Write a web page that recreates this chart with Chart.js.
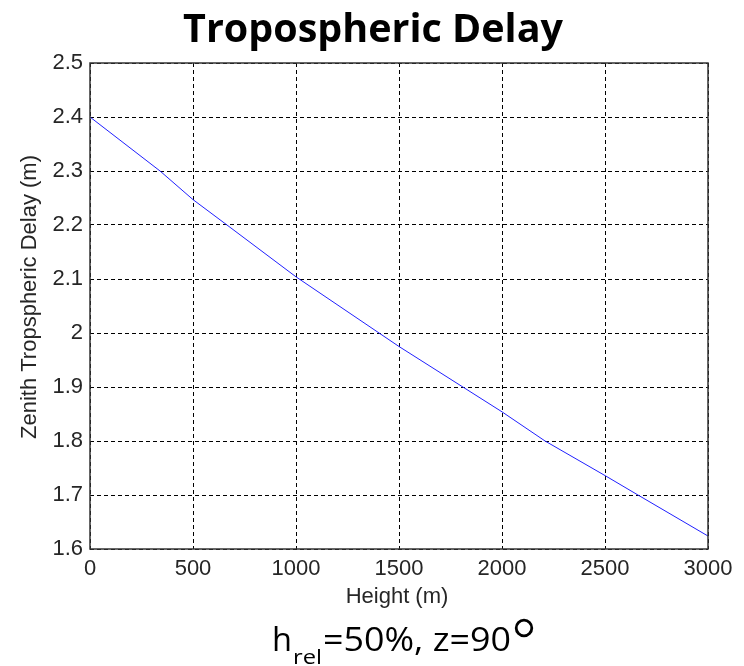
<!DOCTYPE html>
<html><head><meta charset="utf-8">
<script src="https://cdn.jsdelivr.net/npm/chart.js@4"></script>
<style>html,body{margin:0;padding:0;background:#fff}#w{width:744px;height:666px;position:relative}</style>
</head><body><div id="w"><canvas id="c" width="744" height="666"></canvas></div>
<script>
const heights = [0, 340, 500, 665, 1000, 1500, 2000, 2209, 2500, 2660, 3000];
const delays  = [2.40, 2.30, 2.247, 2.20, 2.104, 1.975, 1.854, 1.80, 1.736, 1.70, 1.624];
const xTicks = [0, 500, 1000, 1500, 2000, 2500, 3000];
const yTicks = [1.6, 1.7, 1.8, 1.9, 2.0, 2.1, 2.2, 2.3, 2.4, 2.5];
const titleText = 'Tropospheric Delay';
const xLabel = 'Height (m)';
const yLabel = 'Zenith Tropspheric Delay (m)';

const AX_FONT = '"Liberation Sans", Arial, sans-serif';
const SUB_FONT = '"Open Sans", sans-serif';

function fitFont(ctx, text, weight, family, width){
  ctx.font = weight+' 100px '+family;
  const w = ctx.measureText(text).width;
  return 100*width/w;
}
function drawStretched(ctx, text, size, x0, x1, base){
  ctx.font = size+'px '+SUB_FONT;
  const w = ctx.measureText(text).width;
  const sx = (x1-x0)/w;
  ctx.save();
  ctx.translate(x0, base); ctx.scale(sx, 1);
  ctx.textAlign='left'; ctx.textBaseline='alphabetic';
  ctx.fillText(text, 0, 0);
  ctx.restore();
}

const deco = {
  id:'deco',
  afterDraw(chart){
    const ctx = chart.ctx, a = chart.chartArea;
    ctx.save();
    ctx.strokeStyle = '#333'; ctx.lineWidth = 1.5; ctx.setLineDash([]);
    ctx.strokeRect(a.left, a.top, a.right-a.left, a.bottom-a.top);
    const fam = '"Open Sans", "Liberation Sans", sans-serif';
    const ts = fitFont(ctx, titleText, 'bold', fam, 380);
    ctx.font = 'bold '+ts+'px '+fam;
    ctx.fillStyle = '#000'; ctx.textAlign='center'; ctx.textBaseline='alphabetic';
    ctx.fillText(titleText, 373, 42);
    ctx.fillStyle = '#262626';
    ctx.font = '22px '+AX_FONT;
    ctx.textAlign='center'; ctx.textBaseline='middle';
    ctx.fillText(xLabel, 397, 597);
    ctx.save();
    ctx.translate(30, 297); ctx.rotate(-Math.PI/2);
    ctx.fillText(yLabel, 0, 0);
    ctx.restore();
    // subtitle
    ctx.fillStyle = '#000';
    drawStretched(ctx, 'h', 33, 272, 292, 651);
    drawStretched(ctx, 'rel', 20, 293, 322, 664);
    drawStretched(ctx, '=50%, z=90', 33, 323, 511, 651);
    ctx.beginPath();
    ctx.arc(524, 628, 7.8, 0, Math.PI*2);
    ctx.strokeStyle = '#000'; ctx.lineWidth = 2.8; ctx.setLineDash([]); ctx.stroke();
    ctx.restore();
  }
};

new Chart(document.getElementById('c'), {
  type:'line',
  data:{ datasets:[{ data: heights.map((h,i)=>({x:h,y:delays[i]})), borderColor:'#2020ff', borderWidth:1, pointRadius:0, tension:0, fill:false }] },
  options:{
    responsive:false, animation:false, maintainAspectRatio:false,
    layout:{ padding:{ top:63, right:36, left:0, bottom:0 } },
    plugins:{ legend:{display:false}, tooltip:{enabled:false}, title:{display:false} },
    scales:{
      x:{ type:'linear', min:0, max:3000,
        afterFit(s){ s.height = 117; },
        afterBuildTicks(s){ s.ticks = xTicks.map(v=>({value:v})); },
        border:{display:false, dash:[4,3]},
        grid:{ color:'#000', lineWidth:1, drawTicks:false },
        ticks:{ padding:7, color:'#262626', font:{family:AX_FONT, size:22}, maxRotation:0, autoSkip:false, callback:v=>String(v) }
      },
      y:{ type:'linear', min:1.6, max:2.5,
        afterFit(s){ s.width = 90; },
        afterBuildTicks(s){ s.ticks = yTicks.map(v=>({value:v})); },
        border:{display:false, dash:[4,3]},
        grid:{ color:'#000', lineWidth:1, drawTicks:false },
        ticks:{ padding:7, color:'#262626', font:{family:AX_FONT, size:22}, autoSkip:false, callback:v=>{ const r=Math.round(v*10)/10; return r===2?'2':r.toFixed(1);} }
      }
    }
  },
  plugins:[deco]
});
</script></body></html>
